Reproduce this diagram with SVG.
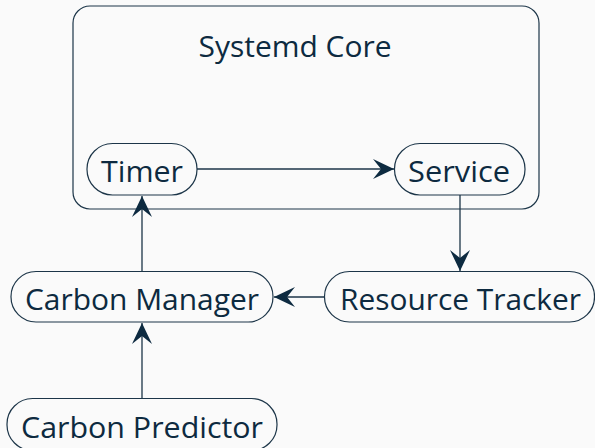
<svg xmlns="http://www.w3.org/2000/svg" width="595" height="448" viewBox="0 0 595 448">
  <style>
    .box { fill: #fafafa; stroke: #1c3548; stroke-width: 1.2; }
    .lbl { font-family: "Open Sans", "Noto Sans", sans-serif; font-size: 29.5px; fill: #0d2a40; text-anchor: middle; }
    .edge { fill: none; stroke: #1c3548; stroke-width: 1.3; }
  </style>
  <defs>
    <marker id="arrow" viewBox="0 0 21 20" refX="21" refY="10" markerWidth="21" markerHeight="20" markerUnits="userSpaceOnUse" orient="auto">
      <path d="M0,0 L21,10 L0,20 L8,10 Z" fill="#0d2a40"/>
    </marker>
  </defs>
  <rect width="595" height="448" fill="#fafafa"/>

  <g id="systemd-core">
    <rect class="box" x="73" y="6" width="466" height="203" rx="17"/>
    <text class="lbl" x="295" y="57" textLength="193" lengthAdjust="spacingAndGlyphs">Systemd Core</text>
  </g>

  <g id="edges">
    <path class="edge" d="M197,169 H394" marker-end="url(#arrow)"/>
    <path class="edge" d="M460,195 V271" marker-end="url(#arrow)"/>
    <path class="edge" d="M324,297 H274" marker-end="url(#arrow)"/>
    <path class="edge" d="M142,272 V196" marker-end="url(#arrow)"/>
    <path class="edge" d="M142,398 V323" marker-end="url(#arrow)"/>
  </g>

  <g id="timer">
    <rect class="box" x="87" y="143.5" width="110" height="51.5" rx="25.5"/>
    <text class="lbl" x="142" y="181.5" textLength="82" lengthAdjust="spacingAndGlyphs">Timer</text>
  </g>
  <g id="service">
    <rect class="box" x="394.5" y="143.5" width="130.5" height="51.5" rx="25.5"/>
    <text class="lbl" x="459" y="181.5" textLength="102" lengthAdjust="spacingAndGlyphs">Service</text>
  </g>
  <g id="resource-tracker">
    <rect class="box" x="324.5" y="271.5" width="270" height="50.5" rx="25"/>
    <text class="lbl" x="460.5" y="309.5" textLength="241" lengthAdjust="spacingAndGlyphs">Resource Tracker</text>
  </g>
  <g id="carbon-manager">
    <rect class="box" x="11" y="271.5" width="262" height="50.5" rx="25"/>
    <text class="lbl" x="142" y="309.5" textLength="234" lengthAdjust="spacingAndGlyphs">Carbon Manager</text>
  </g>
  <g id="carbon-predictor">
    <rect class="box" x="7" y="398.5" width="270" height="52" rx="25.5"/>
    <text class="lbl" x="142" y="437.5" textLength="242" lengthAdjust="spacingAndGlyphs">Carbon Predictor</text>
  </g>
</svg>
